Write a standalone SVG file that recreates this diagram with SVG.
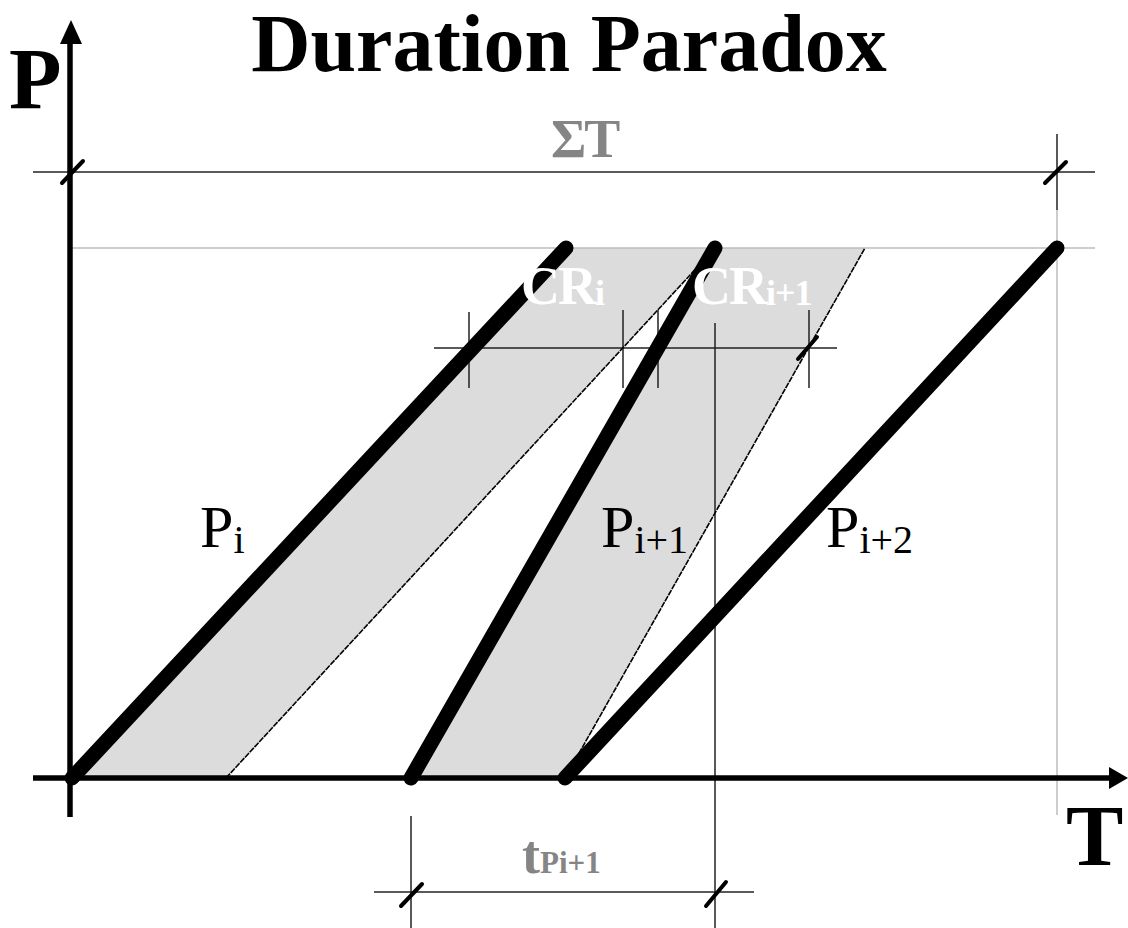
<svg xmlns="http://www.w3.org/2000/svg" width="1128" height="928" viewBox="0 0 1128 928">
<style>
.thick{stroke:#000;stroke-width:15;stroke-linecap:round;fill:none}
.axis{stroke:#000;stroke-width:5.5;fill:none}
.thin{stroke:#222;stroke-width:1.5;fill:none}
.light{stroke:#bdbdbd;stroke-width:1.5;fill:none}
.tick{stroke:#000;stroke-width:4;stroke-linecap:round;fill:none}
.edge{stroke:#000;stroke-width:1.6;fill:none;stroke-dasharray:6 1}
.area{fill:#dcdcdc;stroke:none}
text{font-family:"Liberation Serif","Times New Roman",Tinos,"DejaVu Serif","Noto Serif",Times,serif}
.tb{font-weight:bold}
.gray{fill:#858585}
.white{fill:#fff}
</style>
<rect width="1128" height="928" fill="#fff"/>
<g id="areas">
<polygon class="area" points="72,778 226,778 715,248 566,248"/>
<polygon class="area" points="411,778 565,778 865,248 715,248"/>
</g>
<g id="guides">
<line class="light" x1="70" y1="248" x2="1095" y2="248"/>
<line class="light" x1="1057" y1="210" x2="1057" y2="815"/>
<line class="thin" x1="33" y1="172" x2="1095" y2="172"/>
<line class="thin" x1="1057" y1="134" x2="1057" y2="210"/>
<line class="thin" x1="434" y1="348" x2="837" y2="348"/>
<line class="thin" x1="469" y1="312" x2="469" y2="388"/>
<line class="thin" x1="623" y1="310" x2="623" y2="388"/>
<line class="thin" x1="658" y1="310" x2="658" y2="388"/>
<line class="thin" x1="809" y1="310" x2="809" y2="388"/>
<line class="thin" x1="715" y1="323" x2="715" y2="928"/>
<line class="thin" x1="411" y1="816" x2="411" y2="928"/>
<line class="thin" x1="374" y1="892" x2="754" y2="892"/>
</g>
<g id="connectors">
<line class="edge" x1="226" y1="778" x2="715" y2="248"/>
<line class="edge" x1="565" y1="778" x2="865" y2="248"/>
<line class="axis" x1="70" y1="817" x2="70" y2="40"/>
<polygon points="71,20 60,44 82,44" fill="#000"/>
<line class="axis" x1="33" y1="778" x2="1112" y2="778"/>
<polygon points="1128,778 1109,767 1109,789" fill="#000"/>
<line class="thick" x1="72" y1="778" x2="566" y2="248"/>
<line class="thick" x1="411" y1="778" x2="715" y2="248"/>
<line class="thick" x1="565" y1="778" x2="1057" y2="248"/>
<line class="tick" x1="62" y1="183" x2="83" y2="161"/>
<line class="tick" x1="1045" y1="183" x2="1066" y2="162"/>
<line class="tick" x1="798" y1="359" x2="817" y2="337"/>
<line class="tick" x1="401" y1="906" x2="422" y2="884"/>
<line class="tick" x1="706" y1="906" x2="726" y2="882"/>
</g>
<g id="title">
<text class="tb" x="569" y="71" font-size="82" text-anchor="middle">Duration Paradox</text>
</g>
<g id="axis-labels">
<text class="tb" x="9" y="108" font-size="86">P</text>
<text class="tb" x="1066" y="865" font-size="86">T</text>
</g>
<g id="sum-label">
<text class="tb gray" x="551" y="157" font-size="54" letter-spacing="-2">ΣT</text>
</g>
<g id="cr-labels">
<text class="tb white" x="521" y="304" font-size="54" letter-spacing="-2">CR<tspan font-size="36" dy="1" letter-spacing="0">i</tspan></text>
<text class="tb white" x="692" y="304" font-size="54" letter-spacing="-2">CR<tspan font-size="36" dy="1" letter-spacing="-1">i+1</tspan></text>
</g>
<g id="p-labels">
<text x="200" y="547" font-size="60">P<tspan font-size="40" dy="6">i</tspan></text>
<text x="601" y="547" font-size="60">P<tspan font-size="40" dy="6">i+1</tspan></text>
<text x="826" y="547" font-size="60">P<tspan font-size="40" dy="6">i+2</tspan></text>
</g>
<g id="t-label">
<text class="tb gray" x="522" y="873" font-size="54">t<tspan font-size="31">Pi+1</tspan></text>
</g>
</svg>
